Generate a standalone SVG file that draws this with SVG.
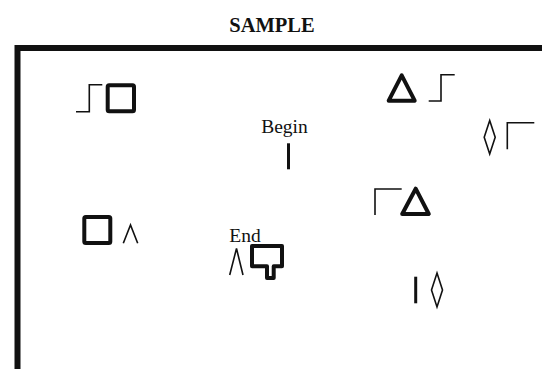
<svg xmlns="http://www.w3.org/2000/svg" width="542" height="369" viewBox="0 0 542 369">
<style>
.thin{fill:none;stroke:#111;stroke-width:1.6;stroke-linecap:butt;stroke-linejoin:miter}
.thick{fill:none;stroke:#111;stroke-width:4;stroke-linejoin:round}
.bar{fill:none;stroke:#111;stroke-width:3}
.lbl{font-family:"Liberation Serif",serif;font-size:19.5px;fill:#111}
</style>
<rect width="542" height="369" fill="#fff"/>
<text x="272" y="31.5" text-anchor="middle" style="font-family:'Liberation Serif',serif;font-size:20.5px;font-weight:bold;fill:#111">SAMPLE</text>
<g id="frame"><path d="M17.5,369 V48 H542" fill="none" stroke="#111" stroke-width="6"/></g>
<g id="n1"><path class="thin" d="M76,111.7 H89.3 V84.7 H102.3"/><rect class="thick" x="107.7" y="85.3" width="26.3" height="26" rx="1.5"/></g>
<g id="n2"><path class="thick" d="M401.7,75.3 L414.7,100.7 L388.7,100.7 Z"/><path class="thin" d="M428.7,101 H441 V74.7 H454.7"/></g>
<g id="n3"><path class="thin" d="M489.7,120.5 L495.2,137.2 L489.7,154 L484.2,137.2 Z"/><path class="thin" d="M507.3,149.3 V122.7 H534.3"/></g>
<g id="n4"><text class="lbl" x="284.5" y="132.5" text-anchor="middle">Begin</text><line class="bar" x1="288.5" y1="143.3" x2="288.5" y2="169.3"/></g>
<g id="n5"><rect class="thick" x="84.3" y="217" width="26" height="26" rx="1.5"/><path class="thin" d="M123.3,243.3 L130.5,225 L137.7,243.3"/></g>
<g id="n6"><text class="lbl" x="245" y="241.5" text-anchor="middle">End</text><path class="thin" d="M229.7,275 L236.5,248.5 L243,275"/><path class="thick" d="M252,246 H282 V266.3 H273.7 V278 H267 V266.3 H252 Z"/></g>
<g id="n7"><path class="thin" d="M375,215 V189 H401.7"/><path class="thick" d="M415.7,188.7 L428.8,214 L402.2,214 Z"/></g>
<g id="n8"><line class="bar" x1="415.7" y1="276.7" x2="415.7" y2="303.3"/><path class="thin" d="M437,273 L442.5,290 L437,307 L431.5,290 Z"/></g>
<g id="connectors"></g>
</svg>
